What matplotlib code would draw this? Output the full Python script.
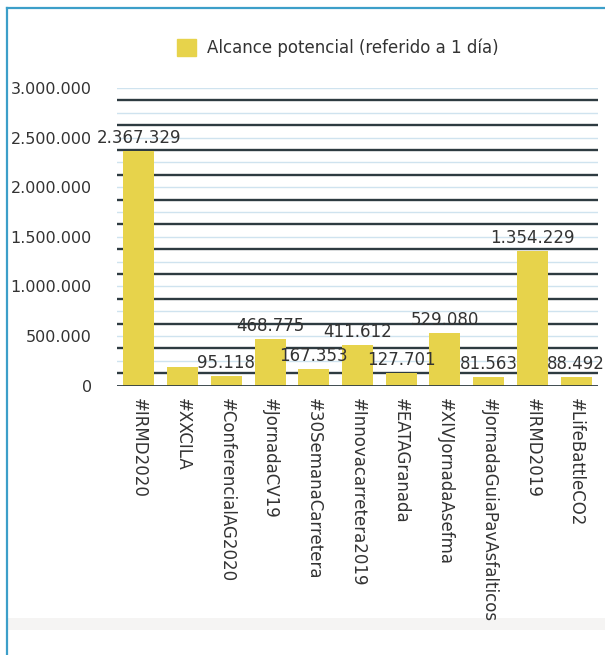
import numpy as np
import matplotlib
matplotlib.use("Agg")
import matplotlib.pyplot as plt
from matplotlib.patches import Rectangle, Patch
from matplotlib.lines import Line2D

hashtags = ["#IRMD2020", "#XXCILA", "#ConferencialAG2020", "#JornadaCV19",
            "#30SemanaCarretera", "#Innovacarretera2019", "#EATAGranada",
            "#XIVJornadaAsefma", "#JornadaGuiaPavAsfalticos", "#IRMD2019",
            "#LifeBattleCO2"]
alcance = [2367329, 185000, 95118, 468775, 167353, 411612, 127701,
           529080, 81563, 1354229, 88492]
# the #XXCILA bar has no value label in the original
show_label = [True, False, True, True, True, True, True, True, True, True, True]
yticks = [0, 500000, 1000000, 1500000, 2000000, 2500000, 3000000]

def miles(v):
    return "{:,}".format(int(v)).replace(",", ".")

W, H = 605, 655
fig = plt.figure(figsize=(W / 100, H / 100), dpi=100)

# page frame and grey band at the bottom (behind everything)
fig.patches.append(Rectangle((8 / W, 1 - 630 / H), 1, 12 / H,
                             transform=fig.transFigure, color="#f5f4f3",
                             lw=0, zorder=-1))
fig.add_artist(Line2D([7 / W, 7 / W], [0, 1 - 8 / H],
                      transform=fig.transFigure, color="#3c9fc9", lw=1.6))
fig.add_artist(Line2D([7 / W, 1], [1 - 8 / H, 1 - 8 / H],
                      transform=fig.transFigure, color="#3c9fc9", lw=1.6))

ax = fig.add_axes([117 / W, 1 - 385.5 / H, 481 / W, 297.5 / H])
ax.patch.set_alpha(0)

bar_col = "#e7d34b"
dark = "#2e3b41"
light = "#cfe3ef"
txt = "#333333"

x = np.arange(len(hashtags))
ax.set_xlim(-0.5, len(hashtags) - 0.5)
ax.set_ylim(0, 3000000)

# light grid at the ticks, dark lines in between (as in the scanned chart)
for g in np.arange(0, 3000001, 250000):
    ax.axhline(g, color=light, lw=1, zorder=1)
for g in np.arange(125000, 3000000, 250000):
    ax.axhline(g, color=dark, lw=1.7, zorder=1)
ax.axhline(0, color=dark, lw=2, zorder=3)

bars = ax.bar(x, alcance, width=0.71, color=bar_col, zorder=2,
              label="Alcance potencial (referido a 1 día)")
for b, v, s in zip(bars, alcance, show_label):
    if s:
        ax.annotate(miles(v), (b.get_x() + b.get_width() / 2, v),
                    xytext=(0, 3), textcoords="offset points",
                    ha="center", va="bottom", fontsize=12, color=txt, zorder=4)

ax.set_yticks(yticks)
ax.set_yticklabels([miles(t) for t in yticks], fontsize=11.5, color=txt)
ax.set_xticks(x)
ax.set_xticklabels(hashtags, rotation=270, ha="center", va="top",
                   fontsize=12, color=txt)
ax.tick_params(axis="y", length=0, pad=18)
ax.tick_params(axis="x", length=0, pad=9)
for sp in ax.spines.values():
    sp.set_visible(False)

fig.legend(handles=[Patch(color=bar_col)],
           labels=["Alcance potencial (referido a 1 día)"],
           loc="center", bbox_to_anchor=(338 / W, 1 - 48 / H),
           frameon=False, fontsize=12, handlelength=1.1, handleheight=1.2,
           handletextpad=0.7, labelcolor=txt)

fig.savefig("out.png", dpi=100)
